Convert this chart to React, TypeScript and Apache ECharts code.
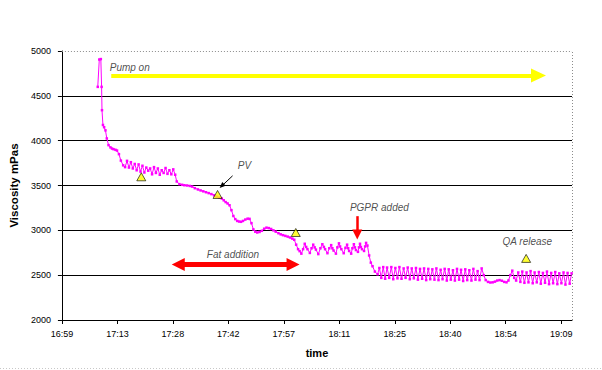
import React, { useEffect, useRef } from "react";
import * as echarts from "echarts";

const FONT = "'Liberation Sans', Arial, Helvetica, sans-serif";

// x axis: minutes after 16:59, labelled every 14.4 min (0.01 day)
const tickLabels = ["16:59", "17:13", "17:28", "17:42", "17:57", "18:11", "18:25", "18:40", "18:54", "19:09"];
const TICK_STEP = 14.4;
const X_MAX = 132.4;
const Y_MIN = 2000;
const Y_MAX = 5000;
const Y_STEP = 500;

// [minutes after 16:59, viscosity mPas]
const pumpStart: [number, number][] = [
  [9.3, 4600], [9.7, 4905], [10.1, 4910], [10.3, 4600], [10.4, 4340], [10.65, 4175],
  [10.95, 4150], [11.3, 4115], [11.65, 4025], [12.1, 3950], [12.6, 3925], [13.0, 3912],
  [13.4, 3905], [13.9, 3898], [14.3, 3890], [14.8, 3850], [15.3, 3778],
];

const beforeFat: [number, number][] = [
  [15.9, 3725], [16.4, 3705], [16.9, 3775], [17.4, 3700], [17.9, 3760], [18.4, 3690],
  [18.9, 3740], [19.4, 3670], [19.9, 3735], [20.4, 3655], [20.9, 3720], [21.4, 3645],
  [21.9, 3700], [22.4, 3665], [22.9, 3690], [23.4, 3625], [23.9, 3705], [24.4, 3640],
  [24.9, 3690], [25.4, 3620], [25.9, 3670], [26.4, 3640], [26.9, 3695], [27.4, 3630],
  [27.9, 3670], [28.4, 3625], [28.9, 3680], [29.4, 3620],
];

const fatAddition: [number, number][] = [
  [29.8, 3545], [30.5, 3515], [31.2, 3508], [31.8, 3503], [32.5, 3500], [33.2, 3495],
  [33.8, 3488], [34.5, 3470], [35.3, 3456], [36.0, 3445], [36.7, 3435], [37.4, 3425],
  [38.1, 3415], [38.8, 3404], [39.5, 3390], [40.2, 3375], [40.9, 3365], [41.5, 3355],
  [42.0, 3335], [42.5, 3315], [43.0, 3300], [43.5, 3280], [44.0, 3225], [44.5, 3160],
  [45.0, 3125], [45.5, 3105], [46.0, 3098], [46.5, 3095], [47.0, 3105], [47.6, 3120],
  [48.2, 3130], [48.7, 3128], [49.2, 3080], [49.7, 3010], [50.2, 2985], [50.7, 2976],
  [51.3, 2982], [51.9, 2995], [52.5, 3018], [53.1, 3030], [53.7, 3025], [54.3, 3015],
  [54.9, 3000], [55.5, 2985], [56.2, 2968], [56.8, 2955], [57.4, 2946], [58.0, 2938],
  [58.6, 2930], [59.2, 2920], [59.8, 2908], [60.3, 2895], [60.8, 2840], [61.3, 2790],
  [61.7, 2768],
];

const beforePgpr: [number, number][] = [
  [62.15, 2740], [62.6, 2790], [63.03, 2850], [63.4, 2815], [63.73, 2790], [64.35, 2748],
  [64.8, 2800], [65.23, 2840], [65.6, 2810], [65.93, 2785], [66.55, 2735], [67.1, 2800],
  [67.6, 2845], [68.0, 2815], [68.31, 2790], [68.92, 2745], [69.4, 2800], [69.89, 2835],
  [70.2, 2800], [70.51, 2775], [71.12, 2740], [71.5, 2810], [71.91, 2855], [72.2, 2820],
  [72.53, 2790], [73.14, 2745], [73.6, 2805], [74.02, 2840], [74.3, 2800], [74.55, 2770],
  [75.08, 2740], [75.4, 2800], [75.78, 2845], [76.05, 2810], [76.31, 2780], [76.84, 2760],
  [77.1, 2810], [77.37, 2850], [77.6, 2815], [77.89, 2790], [78.42, 2770], [78.7, 2820],
  [78.95, 2860], [79.3, 2830],
];

const afterPgpr: [number, number][] = [
  [79.74, 2720], [80.18, 2640], [80.62, 2600], [81.24, 2540], [81.94, 2510],
  [82.4, 2580], [82.9, 2470], [83.4, 2590], [83.9, 2460], [84.4, 2585], [84.95, 2470],
  [85.5, 2590], [86.0, 2455], [86.55, 2580], [87.1, 2465], [87.6, 2590], [88.15, 2460],
  [88.7, 2575], [89.2, 2470], [89.75, 2585], [90.3, 2455], [90.8, 2575], [91.35, 2465],
  [91.9, 2580], [92.4, 2450], [92.95, 2570], [93.5, 2460], [94.0, 2575], [94.55, 2445],
  [95.1, 2570], [95.6, 2455], [96.15, 2565], [96.7, 2450], [97.2, 2575], [97.75, 2445],
  [98.3, 2560], [98.8, 2455], [99.35, 2570], [99.9, 2440], [100.4, 2565], [100.95, 2450],
  [101.5, 2555], [102.0, 2440], [102.55, 2570], [103.1, 2450], [103.6, 2560], [104.15, 2435],
  [104.7, 2565], [105.2, 2445], [105.75, 2555], [106.3, 2440], [106.8, 2570], [107.35, 2450],
  [107.9, 2545], [108.4, 2445], [108.95, 2575], [109.5, 2500], [110.0, 2445], [110.6, 2425],
  [111.2, 2418], [111.8, 2420], [112.4, 2428], [113.0, 2440], [113.6, 2445], [114.2, 2438],
  [114.8, 2425], [115.4, 2420], [115.9, 2440], [116.4, 2500], [116.9, 2550], [117.4, 2470],
  [117.9, 2440], [118.45, 2530], [119.0, 2425], [119.5, 2540], [120.05, 2415], [120.6, 2530],
  [121.1, 2420], [121.65, 2545], [122.2, 2410], [122.7, 2530], [123.25, 2420], [123.8, 2535],
  [124.3, 2405], [124.85, 2525], [125.4, 2415], [125.9, 2540], [126.45, 2400], [127.0, 2525],
  [127.5, 2410], [128.05, 2535], [128.6, 2400], [129.1, 2520], [129.65, 2410], [130.2, 2530],
  [130.7, 2395], [131.25, 2525], [131.8, 2405], [132.3, 2520],
];

// sample points (yellow triangles)
const sampleTimes = [20.6, 40.4, 60.7, 120.5];
const sampleValues = [3597, 3400, 2976, 2687];

// annotation texts
const noteTexts = ["Pump on", "PV", "PGPR added", "Fat addition", "QA release"];
const noteTimes = [17.6, 47.4, 82.4, 44.4, 120.8];
const noteValues = [4820, 3726, 3255, 2728, 2872];

// arrows: [fromTime, fromValue, toTime, toValue]
const pumpArrow = [12.8, 4727, 123.7, 4727];
const fatArrow = [30.2, 2620, 60.0, 2620];
const pgprArrow = [76.66, 3158, 76.66, 2954];
const pvArrow = [44.3, 3608, 41.5, 3495];

export default function App() {
  const ref = useRef<HTMLDivElement>(null);

  useEffect(() => {
    if (!ref.current) return;
    const chart = echarts.init(ref.current, undefined, { renderer: "svg" });
    const tickValues = tickLabels.map((_, i) => +(i * TICK_STEP).toFixed(4));
    const viscosity = [...pumpStart, ...beforeFat, ...fatAddition, ...beforePgpr, ...afterPgpr];

    const arrow = (a: number[], color: string, width: number, head: number[], both: boolean) => [
      {
        coord: [a[0], a[1]],
        symbol: both ? "triangle" : "none",
        symbolSize: head,
        lineStyle: { color, width, type: "solid" },
      },
      { coord: [a[2], a[3]], symbol: "triangle", symbolSize: head },
    ];

    chart.setOption({
      animation: false,
      backgroundColor: "#ffffff",
      textStyle: { fontFamily: FONT },
      grid: { left: 56, right: 30, top: 51, bottom: 50, containLabel: false },
      xAxis: {
        type: "value",
        min: 0,
        max: X_MAX,
        interval: TICK_STEP,
        name: "time",
        nameLocation: "middle",
        nameGap: 27,
        nameTextStyle: { fontFamily: FONT, fontSize: 11, fontWeight: "bold", color: "#000" },
        axisLine: { show: true, lineStyle: { color: "#000", width: 1 } },
        axisTick: { show: true, length: 4, inside: false, customValues: tickValues, lineStyle: { color: "#000" } },
        axisLabel: {
          customValues: tickValues,
          formatter: (v: number) => tickLabels[Math.round(v / TICK_STEP)] ?? "",
          fontFamily: FONT,
          fontSize: 9,
          color: "#000",
          margin: 9,
        },
        splitLine: { show: false },
      },
      yAxis: {
        type: "value",
        min: Y_MIN,
        max: Y_MAX,
        interval: Y_STEP,
        name: "Viscosity mPas",
        nameLocation: "middle",
        nameGap: 33,
        nameRotate: 90,
        nameTextStyle: { fontFamily: FONT, fontSize: 11.5, fontWeight: "bold", color: "#000" },
        axisLine: { show: true, lineStyle: { color: "#000", width: 1 } },
        axisTick: { show: true, length: 4, inside: false, lineStyle: { color: "#000" } },
        axisLabel: { formatter: (v: number) => String(v), fontFamily: FONT, fontSize: 9, color: "#000", margin: 11 },
        splitLine: { show: true, showMaxLine: false, showMinLine: false, lineStyle: { color: "#000", width: 1 } },
      },
      graphic: [
        {
          type: "line",
          shape: { x1: 0, y1: 368.5, x2: 602, y2: 368.5 },
          style: { stroke: "#c8c8c8", lineWidth: 1, lineDash: [1, 2] },
          silent: true,
        },
      ],
      series: [
        {
          name: "Viscosity",
          type: "line",
          data: viscosity,
          color: "#FF00FF",
          lineStyle: { color: "#FF00FF", width: 1 },
          symbol: "rect",
          symbolSize: 2.5,
          showAllSymbol: true,
          itemStyle: { color: "#FF00FF" },
          z: 3,
          markLine: {
            silent: true,
            symbol: ["none", "none"],
            label: { show: false },
            lineStyle: { color: "#8c8c8c", width: 1, type: [1, 2] },
            data: [
              [{ coord: [0, Y_MAX] }, { coord: [X_MAX, Y_MAX] }],
              [{ coord: [X_MAX, Y_MIN] }, { coord: [X_MAX, Y_MAX] }],
            ],
          },
        },
        {
          name: "Samples",
          type: "scatter",
          data: sampleTimes.map((t, i) => [t, sampleValues[i]]),
          symbol: "triangle",
          symbolSize: [9, 8],
          itemStyle: { color: "#FFFF00", borderColor: "#000", borderWidth: 0.8 },
          z: 5,
        },
        {
          name: "Notes",
          type: "scatter",
          data: noteTimes.map((t, i) => ({ value: [t, noteValues[i]], name: noteTexts[i] })),
          symbolSize: 1,
          itemStyle: { color: "rgba(0,0,0,0)" },
          label: {
            show: true,
            position: "inside",
            formatter: "{b}",
            fontFamily: FONT,
            fontSize: 10,
            fontStyle: "italic",
            color: "#222",
          },
          z: 6,
          markLine: {
            silent: true,
            label: { show: false },
            data: [
              arrow(pumpArrow, "#FFFF00", 4, [14, 15], false),
              arrow(fatArrow, "#FF0000", 5, [13, 13], true),
              arrow(pgprArrow, "#FF0000", 2.5, [10, 10], false),
              arrow(pvArrow, "#000000", 1, [5, 6], false),
            ],
          },
        },
      ],
    });

    return () => chart.dispose();
  }, []);

  return <div ref={ref} style={{ position: "fixed", left: 0, top: 0, width: 602, height: 370 }} />;
}
